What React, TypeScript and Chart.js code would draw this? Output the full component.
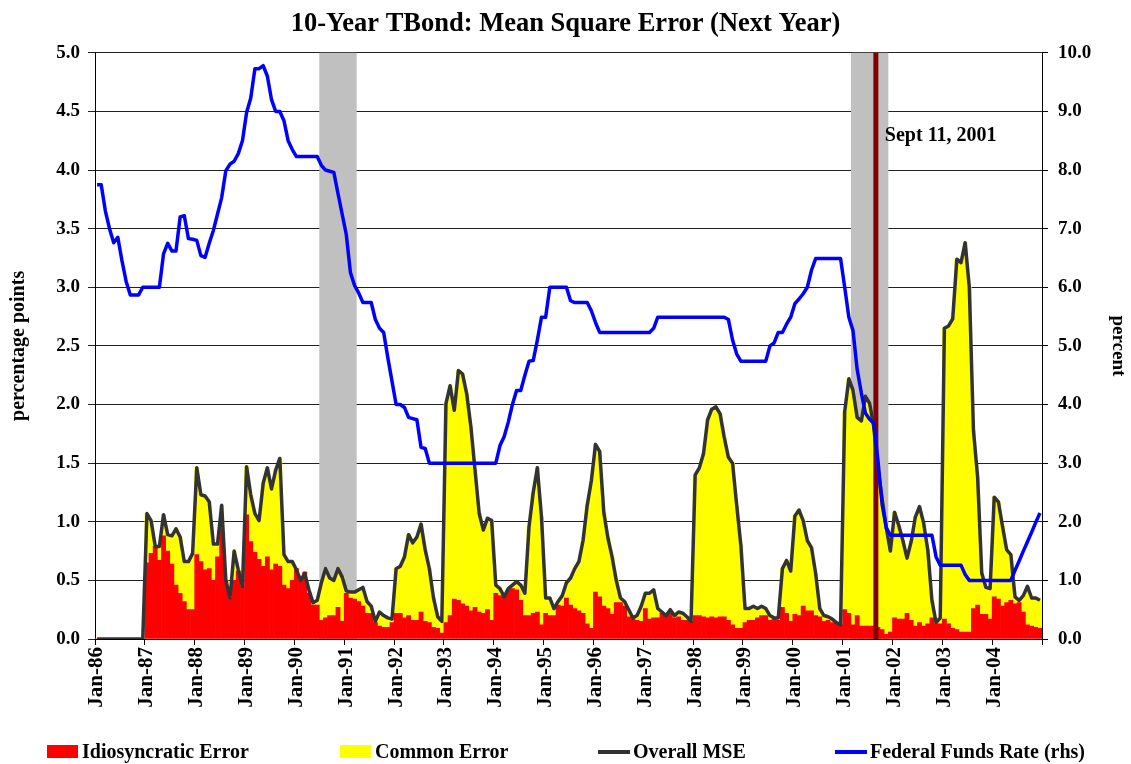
import React, { useEffect, useRef } from 'react';
import { Chart, registerables } from 'chart.js';

Chart.register(...registerables);

// ---------------- DATA ----------------
const years = ['86','87','88','89','90','91','92','93','94','95','96','97','98','99','00','01','02','03','04'];
const monthNames = ['Jan','Feb','Mar','Apr','May','Jun','Jul','Aug','Sep','Oct','Nov','Dec'];
const categories: string[] = [];
years.forEach((y) => monthNames.forEach((m) => categories.push(`${m}-${y}`)));

// Idiosyncratic error (percentage points), Jan-86 .. Dec-04
const idiosyncraticError = [
  0, 0, 0, 0, 0, 0, 0, 0, 0, 0, 0, 0,
  0.65, 0.73, 0.79, 0.67, 0.88, 0.75, 0.64, 0.46, 0.39, 0.32, 0.25, 0.25,
  0.72, 0.66, 0.59, 0.60, 0.50, 0.70, 0.94, 0.50, 0.35, 0.50, 0.58, 0.45,
  1.06, 0.83, 0.74, 0.68, 0.62, 0.70, 0.59, 0.64, 0.62, 0.46, 0.43, 0.50,
  0.60, 0.50, 0.57, 0.39, 0.29, 0.29, 0.16, 0.18, 0.20, 0.20, 0.27, 0.15,
  0.39, 0.35, 0.34, 0.32, 0.28, 0.22, 0.22, 0.14, 0.11, 0.10, 0.10, 0.14,
  0.22, 0.22, 0.18, 0.20, 0.16, 0.16, 0.23, 0.15, 0.14, 0.10, 0.09, 0.05,
  0.14, 0.20, 0.34, 0.33, 0.30, 0.28, 0.24, 0.27, 0.23, 0.22, 0.25, 0.16,
  0.39, 0.37, 0.36, 0.42, 0.43, 0.42, 0.33, 0.20, 0.20, 0.22, 0.23, 0.12,
  0.22, 0.20, 0.20, 0.29, 0.28, 0.35, 0.29, 0.26, 0.24, 0.22, 0.13, 0.09,
  0.40, 0.36, 0.28, 0.26, 0.21, 0.31, 0.31, 0.28, 0.19, 0.17, 0.16, 0.15,
  0.26, 0.17, 0.18, 0.18, 0.22, 0.20, 0.22, 0.18, 0.19, 0.16, 0.16, 0.15,
  0.20, 0.20, 0.19, 0.18, 0.19, 0.18, 0.19, 0.19, 0.16, 0.12, 0.09, 0.09,
  0.14, 0.16, 0.16, 0.18, 0.20, 0.20, 0.16, 0.17, 0.16, 0.27, 0.22, 0.15,
  0.21, 0.20, 0.28, 0.24, 0.24, 0.20, 0.19, 0.15, 0.16, 0.14, 0.14, 0.12,
  0.25, 0.22, 0.12, 0.20, 0.11, 0.11, 0.11, 0.11, 0.10, 0.08, 0.04, 0.06,
  0.18, 0.17, 0.17, 0.22, 0.16, 0.11, 0.14, 0.11, 0.13, 0.18, 0.13, 0.13,
  0.17, 0.13, 0.09, 0.08, 0.06, 0.06, 0.06, 0.26, 0.29, 0.21, 0.21, 0.17,
  0.36, 0.34, 0.28, 0.31, 0.33, 0.30, 0.31, 0.23, 0.12, 0.11, 0.10, 0.09,
];

// Overall MSE (percentage points)
const overallMSE = [
  0, 0, 0, 0, 0, 0, 0, 0, 0, 0, 0, 0,
  1.07, 1.01, 0.79, 0.79, 1.06, 0.89, 0.88, 0.94, 0.87, 0.66, 0.66, 0.73,
  1.46, 1.23, 1.22, 1.17, 0.81, 0.81, 1.14, 0.50, 0.35, 0.75, 0.59, 0.45,
  1.47, 1.23, 1.07, 1.01, 1.33, 1.46, 1.28, 1.44, 1.54, 0.72, 0.66, 0.66,
  0.59, 0.50, 0.56, 0.42, 0.31, 0.33, 0.48, 0.60, 0.52, 0.50, 0.60, 0.53,
  0.41, 0.40, 0.40, 0.42, 0.44, 0.32, 0.28, 0.15, 0.23, 0.20, 0.18, 0.17,
  0.60, 0.62, 0.70, 0.89, 0.82, 0.87, 0.98, 0.76, 0.60, 0.35, 0.19, 0.15,
  2.01, 2.16, 1.95, 2.29, 2.26, 2.09, 1.81, 1.44, 1.07, 0.93, 1.03, 1.01,
  0.46, 0.43, 0.36, 0.43, 0.46, 0.49, 0.46, 0.39, 0.96, 1.25, 1.46, 1.04,
  0.35, 0.35, 0.26, 0.32, 0.37, 0.48, 0.52, 0.60, 0.66, 0.84, 1.14, 1.35,
  1.66, 1.60, 1.08, 0.86, 0.70, 0.50, 0.35, 0.32, 0.25, 0.18, 0.20, 0.28,
  0.39, 0.39, 0.42, 0.26, 0.23, 0.20, 0.25, 0.20, 0.23, 0.22, 0.19, 0.15,
  1.40, 1.46, 1.58, 1.87, 1.96, 1.98, 1.92, 1.72, 1.55, 1.50, 1.14, 0.80,
  0.26, 0.26, 0.28, 0.26, 0.28, 0.26, 0.20, 0.18, 0.18, 0.60, 0.67, 0.58,
  1.05, 1.10, 1.01, 0.84, 0.78, 0.56, 0.26, 0.20, 0.19, 0.17, 0.14, 0.12,
  1.94, 2.22, 2.12, 1.89, 1.86, 2.07, 2.01, 1.81, 1.45, 1.20, 0.95, 0.75,
  1.08, 0.97, 0.84, 0.69, 0.83, 1.04, 1.13, 0.99, 0.76, 0.33, 0.14, 0.18,
  2.65, 2.67, 2.73, 3.24, 3.21, 3.38, 3.00, 1.78, 1.38, 0.56, 0.44, 0.43,
  1.21, 1.17, 0.96, 0.76, 0.72, 0.36, 0.33, 0.37, 0.45, 0.35, 0.35, 0.33,
];

// Federal funds rate (percent, right axis)
const fedFundsRate = [
  7.75, 7.75, 7.30, 7.00, 6.76, 6.85, 6.45, 6.10, 5.87, 5.87, 5.87, 6.00,
  6.00, 6.00, 6.00, 6.00, 6.57, 6.75, 6.62, 6.62, 7.20, 7.22, 6.83, 6.82,
  6.80, 6.54, 6.51, 6.75, 6.97, 7.25, 7.53, 7.99, 8.10, 8.15, 8.28, 8.50,
  8.98, 9.23, 9.73, 9.73, 9.78, 9.60, 9.20, 9.00, 9.00, 8.84, 8.50, 8.35,
  8.23, 8.23, 8.23, 8.23, 8.23, 8.23, 8.08, 8.00, 7.98, 7.96, 7.60, 7.25,
  6.90, 6.25, 6.03, 5.90, 5.74, 5.74, 5.74, 5.45, 5.30, 5.23, 4.80, 4.40,
  4.00, 4.00, 3.95, 3.78, 3.76, 3.74, 3.27, 3.25, 3.00, 3.00, 3.00, 3.00,
  3.00, 3.00, 3.00, 3.00, 3.00, 3.00, 3.00, 3.00, 3.00, 3.00, 3.00, 3.00,
  3.00, 3.30, 3.45, 3.70, 4.00, 4.24, 4.24, 4.50, 4.74, 4.75, 5.10, 5.49,
  5.49, 6.00, 6.00, 6.00, 6.00, 6.00, 5.77, 5.74, 5.74, 5.74, 5.74, 5.60,
  5.40, 5.23, 5.23, 5.23, 5.23, 5.23, 5.23, 5.23, 5.23, 5.23, 5.23, 5.23,
  5.23, 5.23, 5.30, 5.49, 5.49, 5.49, 5.49, 5.49, 5.49, 5.49, 5.49, 5.49,
  5.49, 5.49, 5.49, 5.49, 5.49, 5.49, 5.49, 5.49, 5.45, 5.10, 4.86, 4.74,
  4.74, 4.74, 4.74, 4.74, 4.74, 4.74, 5.00, 5.05, 5.23, 5.23, 5.37, 5.49,
  5.72, 5.80, 5.89, 6.00, 6.29, 6.49, 6.49, 6.49, 6.49, 6.49, 6.49, 6.49,
  6.00, 5.49, 5.26, 4.60, 4.20, 3.85, 3.75, 3.68, 3.05, 2.30, 1.90, 1.77,
  1.77, 1.77, 1.77, 1.77, 1.77, 1.77, 1.77, 1.77, 1.77, 1.77, 1.40, 1.26,
  1.26, 1.26, 1.26, 1.26, 1.26, 1.10, 1.00, 1.00, 1.00, 1.00, 1.00, 1.00,
  1.00, 1.00, 1.00, 1.00, 1.00, 1.17, 1.33, 1.50, 1.66, 1.82, 1.99, 2.15,
];

// Common error = overall MSE less idiosyncratic part
const commonError = overallMSE.map((v, i) => Math.max(0, +(v - idiosyncraticError[i]).toFixed(3)));

const recessionSpans: [string, string][] = [['Jul-90', 'Mar-91'], ['Mar-01', 'Nov-01']];
const eventMonth = 'Sep-01';
const eventLabel = 'Sept 11, 2001';
const eventLabelLevel = 8.5; // on right axis

const titleText = '10-Year TBond: Mean Square Error (Next Year)';
const seriesNames = ['Idiosyncratic Error', 'Common Error', 'Overall MSE', 'Federal Funds Rate (rhs)'];
const seriesColors = ['#FF0000', '#FFFF00', '#333333', '#0000FF'];

const FONT = "'Liberation Serif', 'Times New Roman', serif";

const bandsPlugin = {
  id: 'bands',
  beforeDatasetsDraw(chart: any) {
    const { ctx, chartArea, scales } = chart;
    const x = scales.x;
    const half = (x.getPixelForValue(1) - x.getPixelForValue(0)) / 2;
    ctx.save();
    ctx.fillStyle = '#C0C0C0';
    recessionSpans.forEach(([a, b]) => {
      const x0 = x.getPixelForValue(categories.indexOf(a)) - half;
      const x1 = x.getPixelForValue(categories.indexOf(b)) + half;
      ctx.fillRect(x0, chartArea.top, x1 - x0, chartArea.bottom - chartArea.top);
    });
    ctx.restore();
  },
  afterDatasetDraw(chart: any, args: any) {
    if (args.index !== 0) return;
    const { ctx, chartArea, scales } = chart;
    const x = scales.x;
    const half = (x.getPixelForValue(1) - x.getPixelForValue(0)) / 2;
    const ex = x.getPixelForValue(categories.indexOf(eventMonth)) - half;
    ctx.save();
    ctx.strokeStyle = '#800000';
    ctx.lineWidth = 5;
    ctx.beginPath();
    ctx.moveTo(ex, chartArea.top);
    ctx.lineTo(ex, chartArea.bottom);
    ctx.stroke();
    ctx.restore();
  },
  afterDraw(chart: any) {
    const { ctx, scales } = chart;
    const x = scales.x;
    const half = (x.getPixelForValue(1) - x.getPixelForValue(0)) / 2;
    const ex = x.getPixelForValue(categories.indexOf(eventMonth)) - half;
    ctx.save();
    ctx.fillStyle = '#000';
    ctx.font = `bold 20px ${FONT}`;
    ctx.textBaseline = 'alphabetic';
    ctx.textAlign = 'left';
    ctx.fillText(eventLabel, ex + 9, scales.y1.getPixelForValue(eventLabelLevel));

    // legend
    const legendY = 758;
    const items = [
      { kind: 'box', x: 47 },
      { kind: 'box', x: 340 },
      { kind: 'line', x: 598 },
      { kind: 'line', x: 835 },
    ];
    items.forEach((it, i) => {
      if (it.kind === 'box') {
        ctx.fillStyle = seriesColors[i];
        ctx.fillRect(it.x, legendY - 13, 31, 13);
      } else {
        ctx.strokeStyle = seriesColors[i];
        ctx.lineWidth = 4;
        ctx.beginPath();
        ctx.moveTo(it.x, legendY - 6);
        ctx.lineTo(it.x + 32, legendY - 6);
        ctx.stroke();
      }
      ctx.fillStyle = '#000';
      ctx.fillText(seriesNames[i], it.x + 35, legendY);
    });
    ctx.restore();
  },
};

export default function App() {
  const ref = useRef<HTMLCanvasElement | null>(null);
  useEffect(() => {
    if (!ref.current) return;
    Chart.defaults.font.family = FONT;
    Chart.defaults.color = '#000';
    const tickFont = { family: FONT, size: 19, weight: 'bold' as const };
    const chart = new Chart(ref.current, {
      type: 'bar',
      data: {
        labels: categories,
        datasets: [
          {
            type: 'bar', label: seriesNames[0], data: idiosyncraticError, backgroundColor: seriesColors[0],
            stack: 'err', order: 2, yAxisID: 'y', barPercentage: 1, categoryPercentage: 1, borderWidth: 0,
          },
          {
            type: 'bar', label: seriesNames[1], data: commonError, backgroundColor: seriesColors[1],
            stack: 'err', order: 3, yAxisID: 'y', barPercentage: 1, categoryPercentage: 1, borderWidth: 0,
          },
          {
            type: 'line', label: seriesNames[2], data: overallMSE, borderColor: seriesColors[2], borderWidth: 3.5,
            pointRadius: 0, stack: 'mse', order: 1, yAxisID: 'y', tension: 0, borderJoinStyle: 'round',
          },
          {
            type: 'line', label: seriesNames[3], data: fedFundsRate, borderColor: seriesColors[3], borderWidth: 3.5,
            pointRadius: 0, order: 0, yAxisID: 'y1', tension: 0, borderJoinStyle: 'round',
          },
        ] as any,
      },
      options: {
        animation: false,
        responsive: false,
        layout: { padding: 0 },
        plugins: {
          legend: { display: false },
          tooltip: { enabled: false },
          title: {
            display: true,
            text: titleText,
            color: '#000',
            font: { family: FONT, size: 26.5, weight: 'bold' },
            padding: { top: 8, bottom: 13 },
          },
        },
        scales: {
          x: {
            type: 'category',
            offset: true,
            grid: {
              offset: true,
              drawOnChartArea: false,
              drawTicks: true,
              tickLength: 6,
              color: (c: any) => (c.type === 'tick' ? (c.index % 12 === 0 ? '#000' : 'rgba(0,0,0,0)') : '#000'),
            },
            border: { display: true, color: '#000', width: 1 },
            ticks: {
              autoSkip: false,
              maxRotation: 90,
              minRotation: 90,
              padding: 2,
              color: '#000',
              font: { family: FONT, size: 21, weight: 'bold' },
              callback: (_v: any, i: number) => (i % 12 === 0 ? categories[i] : ''),
            },
            afterFit: (s: any) => { s.height = 125; },
          },
          y: {
            position: 'left',
            stacked: true,
            min: 0,
            max: 5,
            grid: { color: '#222', lineWidth: 1, tickLength: 7 },
            border: { display: true, color: '#000', width: 1 },
            ticks: {
              stepSize: 0.5,
              padding: 8,
              color: '#000',
              font: tickFont,
              callback: (v: any) => Number(v).toFixed(1),
            },
            title: {
              display: true,
              text: 'percentage points',
              color: '#000',
              font: { family: FONT, size: 20, weight: 'bold' },
              padding: { top: 7, bottom: 0 },
            },
            afterFit: (s: any) => { s.width = 95; },
          },
          y1: {
            position: 'right',
            min: 0,
            max: 10,
            grid: { drawOnChartArea: false, tickLength: 6, color: '#000' },
            border: { display: true, color: '#000', width: 1 },
            ticks: {
              stepSize: 1,
              padding: 10,
              color: '#000',
              font: tickFont,
              callback: (v: any) => Number(v).toFixed(1),
            },
            title: {
              display: true,
              text: 'percent',
              color: '#000',
              font: { family: FONT, size: 19, weight: 'bold' },
              padding: { top: 2, bottom: 0 },
            },
            afterFit: (s: any) => { s.width = 89; },
          },
        },
      } as any,
      plugins: [bandsPlugin],
    });
    return () => chart.destroy();
  }, []);

  return (
    <div style={{ position: 'fixed', left: 0, top: 0, width: 1131, height: 764, background: '#fff' }}>
      <canvas ref={ref} width={1131} height={764} style={{ display: 'block' }} />
    </div>
  );
}
